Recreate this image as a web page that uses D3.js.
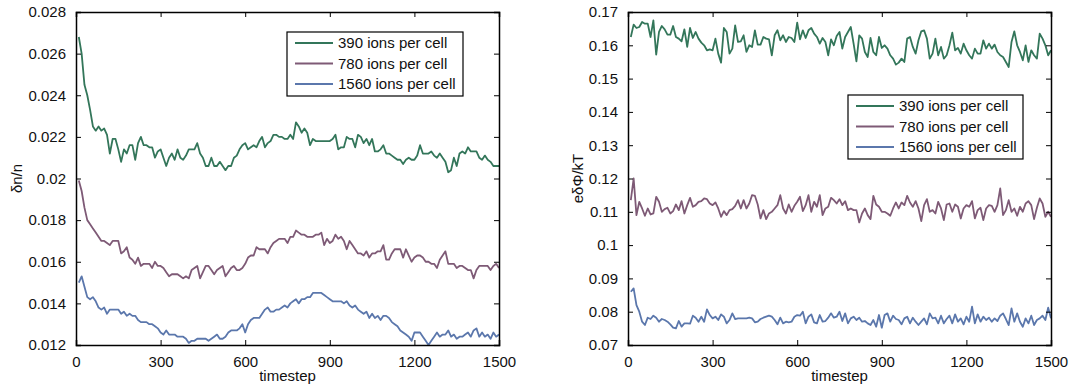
<!DOCTYPE html>
<html>
<head>
  <meta charset="utf-8">
  <style>
    html, body { margin: 0; padding: 0; background: #fff; }
    svg text { font-family: "Liberation Sans", Arial, sans-serif; fill: #111; }
  </style>
</head>
<body>
  <svg id="viz"></svg>
  <script src="https://d3js.org/d3.v7.min.js"></script>
  <script>
    var width = 1071, height = 388;

    // ---- data ----
    var timesteps = d3.range(10, 1501, 10);
    var seriesNames = ["390 ions per cell", "780 ions per cell", "1560 ions per cell"];
    var colors = ["#33765a", "#7e5a76", "#5b77ac"];
    var xTicks = [0, 300, 600, 900, 1200, 1500];
    var dnTicks = [0.012, 0.014, 0.016, 0.018, 0.02, 0.022, 0.024, 0.026, 0.028];
    var phiTicks = [0.07, 0.08, 0.09, 0.1, 0.11, 0.12, 0.13, 0.14, 0.15, 0.16, 0.17];

    var dn390 = [
      0.0268,0.0260,0.0245,0.0240,0.0233,0.0225,0.0223,0.0225,0.0223,0.0224,
      0.0221,0.0212,0.0219,0.0219,0.0214,0.0208,0.0214,0.0212,0.0216,0.0216,
      0.0209,0.0217,0.0220,0.0216,0.0216,0.0215,0.0215,0.0210,0.0213,0.0214,
      0.0210,0.0206,0.0210,0.0212,0.0209,0.0214,0.0210,0.0209,0.0211,0.0214,
      0.0214,0.0214,0.0217,0.0212,0.0210,0.0206,0.0206,0.0210,0.0206,0.0206,
      0.0208,0.0206,0.0204,0.0206,0.0206,0.0210,0.0211,0.0214,0.0216,0.0217,
      0.0214,0.0215,0.0216,0.0215,0.0218,0.0220,0.0215,0.0217,0.0218,0.0221,
      0.0221,0.0220,0.0220,0.0219,0.0219,
      0.0221,0.0219,0.0227,0.0225,0.0222,0.0224,0.0222,0.0216,0.0219,0.0218,
      0.0218,0.0218,0.0218,0.0218,0.0218,0.0219,0.0221,0.0214,0.0215,0.0215,
      0.0220,0.0219,0.0219,0.0215,0.0221,0.0220,0.0217,0.0219,0.0216,0.0219,
      0.0213,0.0213,0.0214,0.0216,0.0212,0.0212,0.0211,0.0210,0.0209,0.0209,
      0.0207,0.0209,0.0210,0.0209,0.0209,0.0211,0.0216,0.0212,0.0212,0.0212,
      0.0213,0.0211,0.0210,0.0212,0.0210,0.0208,0.0203,0.0204,0.0210,0.0206,
      0.0212,0.0213,0.0212,0.0215,0.0213,0.0213,0.0213,0.0210,0.0209,0.0211,
      0.0209,0.0208,0.0206,0.0206,0.0206
    ];
    var dn780 = [
      0.0199,0.0194,0.0186,0.0180,0.0178,0.0176,0.0174,0.0172,0.0170,0.0170,
      0.0169,0.0168,0.0170,0.0170,0.0170,0.0164,0.0165,0.0167,0.0162,0.0161,
      0.0159,0.0162,0.0158,0.0159,0.0159,0.0159,0.0157,0.0160,0.0158,0.0158,
      0.0157,0.0155,0.0153,0.0154,0.0154,0.0154,0.0153,0.0152,0.0153,0.0152,
      0.0156,0.0157,0.0158,0.0152,0.0155,0.0158,0.0158,0.0156,0.0154,0.0156,
      0.0157,0.0158,0.0153,0.0155,0.0157,0.0158,0.0156,0.0156,0.0157,0.0159,
      0.0162,0.0163,0.0163,0.0167,0.0166,0.0166,0.0166,0.0164,0.0167,0.0169,
      0.0170,0.0171,0.0171,0.0171,0.0169,
      0.0172,0.0172,0.0175,0.0174,0.0173,0.0173,0.0172,0.0172,0.0172,0.0173,
      0.0173,0.0174,0.0168,0.0171,0.0169,0.0170,0.0173,0.0171,0.0172,0.0170,
      0.0166,0.0170,0.0168,0.0166,0.0164,0.0164,0.0163,0.0165,0.0162,0.0164,
      0.0164,0.0165,0.0165,0.0168,0.0161,0.0161,0.0164,0.0166,0.0166,0.0166,
      0.0162,0.0166,0.0163,0.0160,0.0162,0.0163,0.0163,0.0162,0.0160,0.0160,
      0.0159,0.0159,0.0157,0.0161,0.0163,0.0165,0.0159,0.0159,0.0159,0.0157,
      0.0158,0.0158,0.0157,0.0156,0.0156,0.0152,0.0156,0.0158,0.0158,0.0158,
      0.0158,0.0156,0.0158,0.0159,0.0157
    ];
    var dn1560 = [
      0.0150,0.0153,0.0148,0.0143,0.0142,0.0143,0.0141,0.0138,0.0137,0.0138,
      0.0135,0.0137,0.0137,0.0137,0.0137,0.0135,0.0136,0.0134,0.0135,0.0134,
      0.0134,0.0132,0.0131,0.0131,0.0131,0.0130,0.0130,0.0129,0.0128,0.0126,
      0.0125,0.0127,0.0125,0.0125,0.0125,0.0124,0.0124,0.0124,0.0123,0.0121,
      0.0122,0.0122,0.0123,0.0123,0.0123,0.0123,0.0122,0.0123,0.0124,0.0125,
      0.0123,0.0123,0.0124,0.0126,0.0127,0.0127,0.0127,0.0128,0.0130,0.0126,
      0.0130,0.0132,0.0133,0.0133,0.0133,0.0135,0.0137,0.0138,0.0136,0.0136,
      0.0137,0.0137,0.0138,0.0139,0.0138,
      0.0140,0.0141,0.0142,0.0140,0.0142,0.0142,0.0143,0.0143,0.0145,0.0145,
      0.0145,0.0145,0.0144,0.0143,0.0142,0.0141,0.0141,0.0141,0.0141,0.0140,
      0.0141,0.0139,0.0138,0.0139,0.0137,0.0136,0.0135,0.0136,0.0133,0.0135,
      0.0133,0.0134,0.0132,0.0134,0.0134,0.0133,0.0131,0.0130,0.0129,0.0127,
      0.0126,0.0125,0.0124,0.0122,0.0126,0.0126,0.0126,0.0124,0.0122,0.0120,
      0.0122,0.0124,0.0126,0.0124,0.0125,0.0125,0.0127,0.0124,0.0125,0.0123,
      0.0124,0.0124,0.0125,0.0126,0.0124,0.0127,0.0128,0.0124,0.0126,0.0124,
      0.0125,0.0123,0.0126,0.0124,0.0125
    ];

    var phi390 = [
      0.1625,0.1662,0.1652,0.1655,0.1670,0.1665,0.1665,0.1625,0.1675,0.1572,
      0.1640,0.1658,0.1648,0.1632,0.1632,0.1658,0.1625,0.1620,0.1612,0.1648,
      0.1595,0.1652,0.1622,0.1640,0.1620,0.1608,0.1600,0.1585,0.1588,0.1585,
      0.1620,0.1575,0.1548,0.1652,0.1640,0.1575,0.1590,0.1660,0.1610,0.1612,
      0.1630,0.1580,0.1600,0.1595,0.1645,0.1602,0.1602,0.1625,0.1620,0.1618,
      0.1570,0.1630,0.1645,0.1615,0.1630,0.1610,0.1625,0.1622,0.1610,0.1668,
      0.1618,0.1645,0.1622,0.1645,0.1652,0.1635,0.1625,0.1605,0.1622,0.1610,
      0.1570,0.1618,0.1600,0.1628,0.1640,
      0.1590,0.1625,0.1640,0.1655,0.1605,0.1552,0.1630,0.1620,0.1580,0.1565,
      0.1622,0.1580,0.1570,0.1625,0.1592,0.1600,0.1590,0.1570,0.1560,0.1542,
      0.1548,0.1560,0.1550,0.1620,0.1625,0.1595,0.1575,0.1615,0.1642,0.1645,
      0.1620,0.1560,0.1575,0.1620,0.1570,0.1595,0.1560,0.1570,0.1600,0.1638,
      0.1585,0.1592,0.1575,0.1605,0.1585,0.1570,0.1560,0.1590,0.1575,0.1575,
      0.1615,0.1590,0.1605,0.1590,0.1602,0.1580,0.1570,0.1565,0.1550,0.1535,
      0.1610,0.1642,0.1600,0.1580,0.1555,0.1600,0.1550,0.1585,0.1570,0.1560,
      0.1635,0.1620,0.1600,0.1570,0.1585
    ];
    var phi780 = [
      0.1135,0.1200,0.1090,0.1130,0.1110,0.1088,0.1110,0.1092,0.1095,0.1145,
      0.1130,0.1100,0.1108,0.1112,0.1095,0.1102,0.1122,0.1105,0.1132,0.1095,
      0.1120,0.1142,0.1115,0.1120,0.1130,0.1132,0.1140,0.1138,0.1125,0.1120,
      0.1128,0.1110,0.1085,0.1102,0.1090,0.1105,0.1108,0.1118,0.1135,0.1110,
      0.1135,0.1110,0.1125,0.1150,0.1148,0.1122,0.1080,0.1105,0.1078,0.1095,
      0.1100,0.1110,0.1120,0.1150,0.1110,0.1095,0.1122,0.1100,0.1118,0.1130,
      0.1145,0.1102,0.1120,0.1150,0.1100,0.1130,0.1115,0.1150,0.1090,0.1110,
      0.1115,0.1142,0.1135,0.1125,0.1138,
      0.1120,0.1132,0.1105,0.1110,0.1105,0.1105,0.1068,0.1095,0.1110,0.1090,
      0.1078,0.1148,0.1122,0.1115,0.1100,0.1100,0.1095,0.1088,0.1110,0.1128,
      0.1110,0.1128,0.1120,0.1148,0.1128,0.1115,0.1132,0.1110,0.1072,0.1120,
      0.1138,0.1100,0.1105,0.1095,0.1130,0.1110,0.1075,0.1122,0.1125,0.1100,
      0.1122,0.1115,0.1080,0.1110,0.1120,0.1115,0.1132,0.1080,0.1105,0.1112,
      0.1075,0.1110,0.1120,0.1118,0.1100,0.1120,0.1170,0.1090,0.1105,0.1135,
      0.1100,0.1110,0.1088,0.1115,0.1100,0.1125,0.1132,0.1120,0.1078,0.1112,
      0.1140,0.1125,0.1085,0.1100,0.1085
    ];
    var phi1560 = [
      0.0860,0.0870,0.0820,0.0800,0.0770,0.0760,0.0782,0.0778,0.0788,0.0782,
      0.0770,0.0778,0.0775,0.0770,0.0762,0.0752,0.0750,0.0772,0.0755,0.0765,
      0.0765,0.0764,0.0788,0.0782,0.0770,0.0785,0.0770,0.0807,0.0790,0.0780,
      0.0785,0.0775,0.0792,0.0785,0.0765,0.0775,0.0795,0.0778,0.0780,0.0780,
      0.0780,0.0780,0.0782,0.0780,0.0768,0.0770,0.0778,0.0782,0.0785,0.0788,
      0.0785,0.0775,0.0762,0.0782,0.0765,0.0770,0.0768,0.0770,0.0785,0.0790,
      0.0788,0.0800,0.0765,0.0785,0.0792,0.0768,0.0765,0.0790,0.0770,0.0772,
      0.0782,0.0795,0.0782,0.0785,0.0800,
      0.0772,0.0795,0.0765,0.0780,0.0785,0.0775,0.0782,0.0770,0.0772,0.0765,
      0.0760,0.0775,0.0755,0.0790,0.0752,0.0790,0.0795,0.0770,0.0788,0.0778,
      0.0775,0.0762,0.0780,0.0785,0.0765,0.0782,0.0770,0.0760,0.0770,0.0780,
      0.0762,0.0795,0.0780,0.0782,0.0765,0.0788,0.0765,0.0778,0.0788,0.0765,
      0.0792,0.0770,0.0780,0.0762,0.0785,0.0770,0.0815,0.0765,0.0792,0.0770,
      0.0785,0.0775,0.0782,0.0770,0.0780,0.0772,0.0788,0.0795,0.0778,0.0760,
      0.0810,0.0770,0.0795,0.0770,0.0755,0.0780,0.0765,0.0788,0.0760,0.0775,
      0.0780,0.0788,0.0775,0.0812,0.0780
    ];

    // ---- layout ----
    var panels = [
      { left: 76, right: 499, top: 12, bottom: 345, domain: [0.012, 0.028], ticks: dnTicks,
        series: [dn390, dn780, dn1560], ylabel: "δn/n", ylabelX: 17,
        legend: { x: 287, y: 32, w: 176, h: 64 } },
      { left: 628, right: 1051, top: 12, bottom: 345, domain: [0.07, 0.17], ticks: phiTicks,
        series: [phi390, phi780, phi1560], ylabel: "eδΦ/kT", ylabelX: 578,
        legend: { x: 848, y: 95, w: 175, h: 64 } }
    ];

    var fontSize = "15px";
    var fmt = function(v) { return String(+v.toFixed(4)); };

    var svg = d3.select("#viz").attr("width", width).attr("height", height);
    svg.append("rect").attr("width", width).attr("height", height).attr("fill", "#fff");

    panels.forEach(function(p, pi) {
      var x = d3.scaleLinear().domain([0, 1500]).range([p.left, p.right]);
      var y = d3.scaleLinear().domain(p.domain).range([p.bottom, p.top]);
      var g = svg.append("g");

      g.append("clipPath").attr("id", "clip" + pi)
        .append("rect").attr("x", p.left).attr("y", p.top)
        .attr("width", p.right - p.left).attr("height", p.bottom - p.top);

      // lines
      var line = d3.line()
        .x(function(d, i) { return x(timesteps[i]); })
        .y(function(d) { return y(d); });

      p.series.forEach(function(s, si) {
        g.append("path")
          .attr("d", line(s))
          .attr("fill", "none")
          .attr("stroke", colors[si])
          .attr("stroke-width", 1.8)
          .attr("stroke-linejoin", "round")
          .attr("clip-path", "url(#clip" + pi + ")");
      });

      // axes: ticks inward on all four sides
      var tk = 5;
      g.append("g").attr("transform", "translate(0," + p.bottom + ")")
        .call(d3.axisBottom(x).tickValues(xTicks).tickSize(-tk).tickPadding(6 + tk).tickFormat(d3.format("d")));
      g.append("g").attr("transform", "translate(0," + p.top + ")")
        .call(d3.axisTop(x).tickValues(xTicks).tickSize(-tk).tickFormat(""));
      g.append("g").attr("transform", "translate(" + p.left + ",0)")
        .call(d3.axisLeft(y).tickValues(p.ticks).tickSize(-tk).tickPadding(5 + tk).tickFormat(fmt));
      g.append("g").attr("transform", "translate(" + p.right + ",0)")
        .call(d3.axisRight(y).tickValues(p.ticks).tickSize(-tk).tickFormat(""));

      g.selectAll(".domain").attr("stroke", "#000").attr("stroke-width", 1.5);
      g.selectAll(".tick line").attr("stroke", "#000").attr("stroke-width", 1);
      g.selectAll(".tick text")
        .style("font-family", "'Liberation Sans', Arial, sans-serif")
        .style("font-size", fontSize).attr("fill", "#111");

      // axis labels
      g.append("text")
        .attr("x", (p.left + p.right) / 2).attr("y", 381)
        .attr("text-anchor", "middle").style("font-size", fontSize)
        .text("timestep");
      g.append("text")
        .attr("transform", "translate(" + p.ylabelX + "," + ((p.top + p.bottom) / 2) + ") rotate(-90)")
        .attr("text-anchor", "middle").attr("dy", "0.35em").style("font-size", fontSize)
        .text(p.ylabel);

      // legend
      var L = p.legend;
      var lg = g.append("g").attr("transform", "translate(" + L.x + "," + L.y + ")");
      lg.append("rect").attr("width", L.w).attr("height", L.h)
        .attr("fill", "#fff").attr("stroke", "#000").attr("stroke-width", 1.2);
      seriesNames.forEach(function(name, i) {
        var ry = 11 + i * 20.5;
        lg.append("line").attr("x1", 8).attr("x2", 46).attr("y1", ry).attr("y2", ry)
          .attr("stroke", colors[i]).attr("stroke-width", 1.8);
        lg.append("text").attr("x", 51).attr("y", ry).attr("dy", "0.36em")
          .style("font-size", fontSize).text(name);
      });
    });
  </script>
</body>
</html>
